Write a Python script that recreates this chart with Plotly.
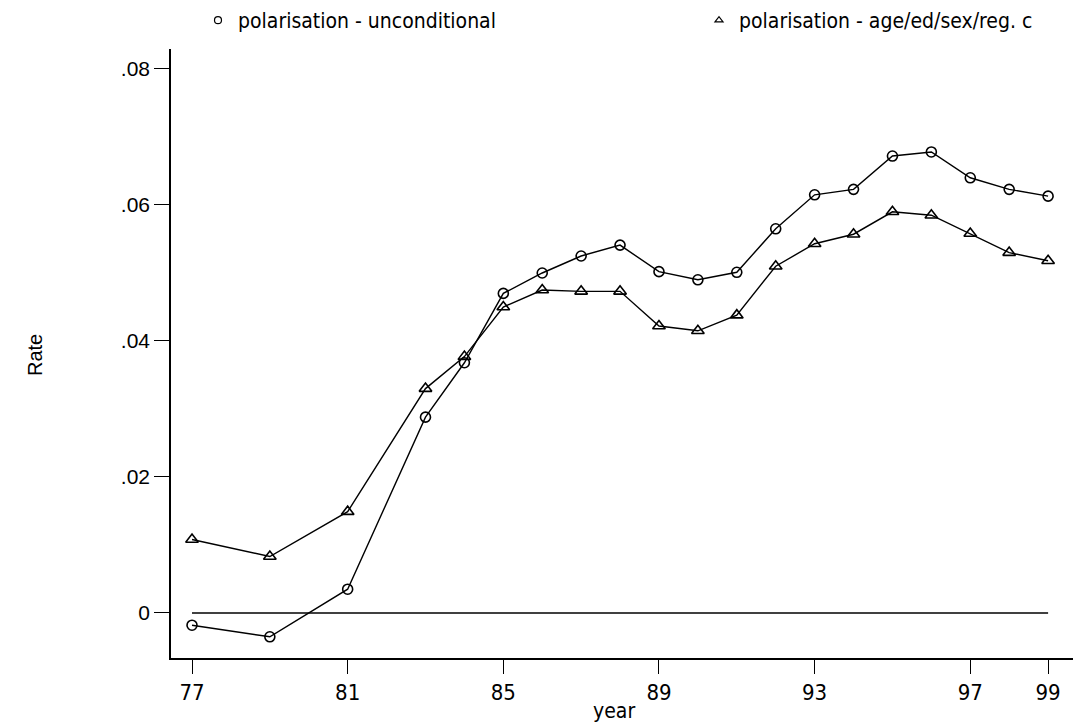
import plotly.graph_objects as go

years = [77, 79, 81, 83, 84, 85, 86, 87, 88, 89, 90, 91, 92, 93, 94, 95, 96, 97, 98, 99]
uncond = [-0.0018, -0.0035, 0.0035, 0.0288, 0.0368, 0.0470, 0.0500, 0.0525, 0.0541, 0.0502,
          0.0490, 0.0501, 0.0565, 0.0615, 0.0623, 0.0672, 0.0678, 0.0640, 0.0623, 0.0613]
cond = [0.0108, 0.0083, 0.0149, 0.0330, 0.0377, 0.0450, 0.0475, 0.0473, 0.0473, 0.0422,
        0.0415, 0.0438, 0.0510, 0.0543, 0.0557, 0.0590, 0.0585, 0.0558, 0.0530, 0.0518]
zero_line = [0, 0]
x_ticks = [77, 81, 85, 89, 93, 97, 99]
y_ticks = [0, 0.02, 0.04, 0.06, 0.08]
y_ticktext = ["0", ".02", ".04", ".06", ".08"]
names = ["polarisation - unconditional", "polarisation - age/ed/sex/reg. c"]

narrow = "Liberation Sans Narrow, DejaVu Sans Condensed, Liberation Sans, Arial, sans-serif"
regular = "Liberation Sans, Arial, sans-serif"

W, H = 1073, 724
L, R, T, B = 171, 0, 49, 66
pw, ph = W - L - R, H - T - B

fig = go.Figure()
fig.add_trace(go.Scatter(x=[years[0], years[-1]], y=zero_line, mode="lines",
                         line=dict(color="black", width=1.6), showlegend=False, hoverinfo="skip"))
fig.add_trace(go.Scatter(x=years, y=uncond, mode="lines+markers", name=names[0],
                         line=dict(color="black", width=1.4),
                         marker=dict(symbol="circle-open", size=10, color="black", line=dict(width=1.6)),
                         showlegend=False))
fig.add_trace(go.Scatter(x=years, y=cond, mode="lines+markers", name=names[1],
                         line=dict(color="black", width=1.4),
                         marker=dict(symbol="triangle-up-open", size=11, color="black", line=dict(width=1.6)),
                         showlegend=False))
# legend-only entries (marker only), each in its own legend box
fig.add_trace(go.Scatter(x=[None], y=[None], mode="markers", name=names[0], legend="legend",
                         marker=dict(symbol="circle-open", size=7, color="black", line=dict(width=1.2))))
fig.add_trace(go.Scatter(x=[None], y=[None], mode="markers", name=names[1], legend="legend2",
                         marker=dict(symbol="triangle-up-open", size=7, color="black", line=dict(width=1.2))))

legend_common = dict(xref="paper", yref="paper", yanchor="middle", xanchor="left",
                     orientation="h",
                     font=dict(family=narrow, size=21), bgcolor="rgba(0,0,0,0)",
                     borderwidth=0, itemclick=False, itemdoubleclick=False)

legend_y = 1 + (T - 20) / ph

fig.update_layout(
    width=W, height=H,
    margin=dict(l=L, r=R, t=T, b=B),
    paper_bgcolor="white", plot_bgcolor="white",
    font=dict(family=narrow, color="black", size=20),
    showlegend=True,
    legend=dict(x=(198 - L) / pw, y=legend_y, **legend_common),
    legend2=dict(x=(699 - L) / pw, y=legend_y, **legend_common),
    xaxis=dict(range=[76.46, 99.64], tickmode="array", tickvals=x_ticks,
               ticktext=[str(v) for v in x_ticks],
               showgrid=False, zeroline=False, showline=True, linecolor="black", linewidth=1.6,
               ticks="outside", ticklen=14, tickwidth=1.4, tickcolor="black",
               tickfont=dict(family=narrow, size=22)),
    yaxis=dict(range=[-0.00662, 0.08294], tickmode="array", tickvals=y_ticks, ticktext=y_ticktext,
               showgrid=False, zeroline=False, showline=True, linecolor="black", linewidth=1.6,
               ticks="outside", ticklen=15, tickwidth=1.4, tickcolor="black",
               tickfont=dict(family=regular, size=21)),
    annotations=[
        dict(text="year", xref="paper", yref="paper", x=(614 - L) / pw, y=(H - B - 711) / ph,
             showarrow=False, xanchor="center", yanchor="middle", font=dict(family=narrow, size=21)),
        dict(text="Rate", xref="paper", yref="paper", x=(35 - L) / pw, y=(H - B - 355) / ph,
             showarrow=False, textangle=-90, xanchor="center", yanchor="middle",
             font=dict(family=regular, size=20)),
    ],
)

fig.write_html("out.html")
